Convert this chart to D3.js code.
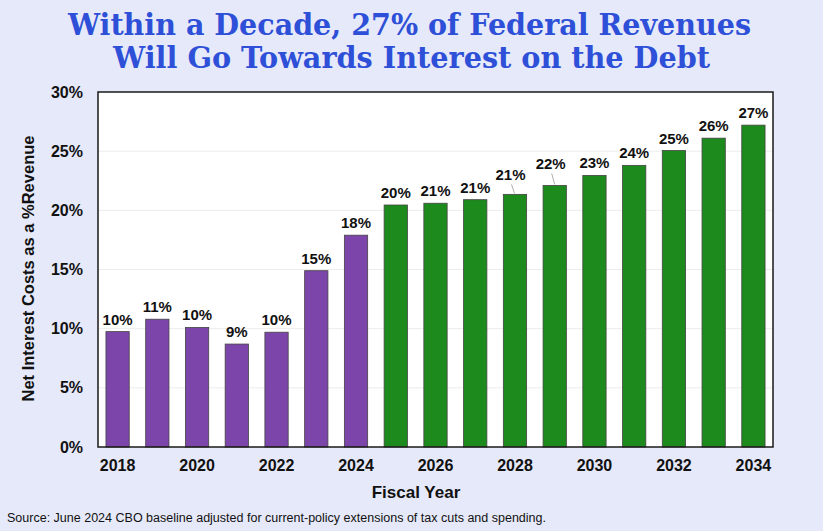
<!DOCTYPE html>
<html>
<head>
<meta charset="utf-8">
<script src="https://cdn.jsdelivr.net/npm/d3@7"></script>
<style>
  html, body { margin: 0; padding: 0; background: #e6e9f9; }
  svg { display: block; }
</style>
</head>
<body>
<svg id="chart" width="823" height="531"></svg>
<script>
// ---- Data ----
const years = [2018, 2019, 2020, 2021, 2022, 2023, 2024, 2025, 2026, 2027, 2028, 2029, 2030, 2031, 2032, 2033, 2034];
const values = [9.75, 10.8, 10.1, 8.7, 9.7, 14.9, 17.9, 20.45, 20.6, 20.9, 21.35, 22.1, 22.95, 23.8, 25.05, 26.1, 27.2];
const valueLabels = ["10%", "11%", "10%", "9%", "10%", "15%", "18%", "20%", "21%", "21%", "21%", "22%", "23%", "24%", "25%", "26%", "27%"];
const actualYears = [2018, 2019, 2020, 2021, 2022, 2023, 2024];
const yTicks = [0, 5, 10, 15, 20, 25, 30];
const xTickYears = [2018, 2020, 2022, 2024, 2026, 2028, 2030, 2032, 2034];
const titleLines = ["Within a Decade, 27% of Federal Revenues", "Will Go Towards Interest on the Debt"];
const yAxisTitle = "Net Interest Costs as a %Revenue";
const xAxisTitle = "Fiscal Year";
const sourceNote = "Source: June 2024 CBO baseline adjusted for current-policy extensions of tax cuts and spending.";

// ---- Layout ----
const svg = d3.select("#chart");
const W = 823, H = 531;
const plot = { left: 98, right: 773, top: 92, bottom: 447 };

svg.append("rect").attr("width", W).attr("height", H).attr("fill", "#e6e9f9");

// Title
const titleG = svg.append("g");
titleLines.forEach((t, i) => {
  titleG.append("text")
    .attr("x", [409.5, 411.5][i]).attr("y", [35, 68][i])
    .attr("text-anchor", "middle")
    .attr("font-family", "'DejaVu Serif', serif")
    .attr("font-weight", "bold")
    .attr("font-size", 30)
    .attr("fill", "#2e4fd7")
    .attr("textLength", [683, 597][i])
    .attr("lengthAdjust", "spacingAndGlyphs")
    .text(t);
});

const x = d3.scaleBand().domain(years).range([plot.left, plot.right]).paddingInner(0.414).paddingOuter(0.2);
const y = d3.scaleLinear().domain([0, 30]).range([plot.bottom, plot.top]);

// Plot background
svg.append("rect")
  .attr("x", plot.left).attr("y", plot.top)
  .attr("width", plot.right - plot.left).attr("height", plot.bottom - plot.top)
  .attr("fill", "#ffffff");

// Gridlines
svg.append("g").selectAll("line").data(yTicks.filter(d => d > 0 && d < 30)).join("line")
  .attr("x1", plot.left).attr("x2", plot.right)
  .attr("y1", d => y(d)).attr("y2", d => y(d))
  .attr("stroke", "#ececec").attr("stroke-width", 1);

// Bars
const data = years.map((yr, i) => ({ yr, v: values[i], label: valueLabels[i] }));
svg.append("g").selectAll("rect").data(data).join("rect")
  .attr("x", d => x(d.yr))
  .attr("y", d => y(d.v))
  .attr("width", x.bandwidth())
  .attr("height", d => y(0) - y(d.v))
  .attr("fill", d => actualYears.includes(d.yr) ? "#7c45a9" : "#1d8a1d")
  .attr("stroke", "#444")
  .attr("stroke-width", 0.8);

// Value labels (two labels lifted with leader lines)
const nudge = { 2028: { dx: -4.5, dy: -7 }, 2029: { dx: -4, dy: -9 } };
const lblG = svg.append("g");
data.forEach(d => {
  const cx = x(d.yr) + x.bandwidth() / 2;
  const top = y(d.v);
  const n = nudge[d.yr] || { dx: 0, dy: 0 };
  lblG.append("text")
    .attr("x", cx + n.dx).attr("y", top - 7 + n.dy)
    .attr("text-anchor", "middle")
    .attr("font-family", "'Liberation Sans', Arial, sans-serif")
    .attr("font-weight", "bold")
    .attr("font-size", 15)
    .attr("fill", "#111")
    .text(d.label);
  if (nudge[d.yr]) {
    lblG.append("line")
      .attr("x1", cx + n.dx + 1).attr("y1", top - 7 + n.dy + 4)
      .attr("x2", cx + n.dx + 4).attr("y2", top - 1)
      .attr("stroke", "#999").attr("stroke-width", 0.8);
  }
});

// Plot frame
svg.append("rect")
  .attr("x", plot.left).attr("y", plot.top)
  .attr("width", plot.right - plot.left).attr("height", plot.bottom - plot.top)
  .attr("fill", "none").attr("stroke", "#1a1a1a").attr("stroke-width", 1.5);

// Y axis
const yAxis = d3.axisLeft(y).tickValues(yTicks).tickFormat(d => d + "%").tickSize(0).tickPadding(15);
const yg = svg.append("g").attr("transform", `translate(${plot.left},0)`).call(yAxis);
yg.select(".domain").remove();
yg.selectAll("text")
  .attr("font-family", "'Liberation Sans', Arial, sans-serif")
  .attr("font-weight", "bold").attr("font-size", 16).attr("fill", "#111");

// X axis
const xAxis = d3.axisBottom(x).tickValues(xTickYears).tickSize(0).tickPadding(13);
const xg = svg.append("g").attr("transform", `translate(0,${plot.bottom})`).call(xAxis);
xg.select(".domain").remove();
xg.selectAll("text")
  .attr("font-family", "'Liberation Sans', Arial, sans-serif")
  .attr("font-weight", "bold").attr("font-size", 16).attr("fill", "#111");

// Axis titles
svg.append("text")
  .attr("transform", `translate(34,${(plot.top + plot.bottom) / 2 - 1}) rotate(-90)`)
  .attr("text-anchor", "middle")
  .attr("font-family", "'Liberation Sans', Arial, sans-serif")
  .attr("font-weight", "bold").attr("font-size", 16.5).attr("fill", "#111")
  .text(yAxisTitle);

svg.append("text")
  .attr("x", 416).attr("y", 498)
  .attr("text-anchor", "middle")
  .attr("font-family", "'Liberation Sans', Arial, sans-serif")
  .attr("font-weight", "bold").attr("font-size", 17).attr("fill", "#111")
  .text(xAxisTitle);

// Source
svg.append("text")
  .attr("x", 7).attr("y", 522)
  .attr("font-family", "'Liberation Sans', Arial, sans-serif")
  .attr("font-size", 12.5).attr("fill", "#111")
  .attr("textLength", 539)
  .attr("lengthAdjust", "spacingAndGlyphs")
  .text(sourceNote);
</script>
</body>
</html>
